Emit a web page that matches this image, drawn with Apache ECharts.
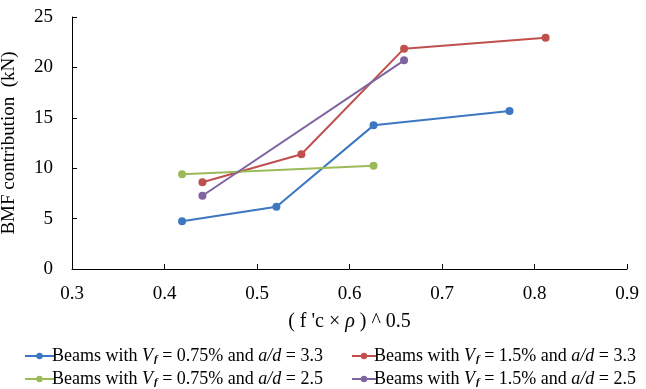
<!DOCTYPE html>
<html>
<head>
<meta charset="utf-8">
<script src="https://cdn.jsdelivr.net/npm/echarts@6/dist/echarts.min.js"></script>
<style>
html,body{margin:0;padding:0;background:#fff;}
#chart{width:646px;height:389px;}
</style>
</head>
<body>
<div id="chart"></div>
<script>
// 读图估计的数据点 [x, y]
const blueData = [[0.419, 4.73], [0.521, 6.18], [0.626, 14.25], [0.773, 15.67]];
const redData = [[0.441, 8.6], [0.548, 11.38], [0.659, 21.86], [0.812, 22.95]];
const greenData = [[0.419, 9.39], [0.626, 10.25]];
const purpleData = [[0.441, 7.27], [0.659, 20.7]];

const seriesNames = [
  'Beams with {i|V}{s|f} = 0.75% and {i|a/d} = 3.3',
  'Beams with {i|V}{s|f} = 1.5% and {i|a/d} = 3.3',
  'Beams with {i|V}{s|f} = 0.75% and {i|a/d} = 2.5',
  'Beams with {i|V}{s|f} = 1.5% and {i|a/d} = 2.5'
];
const colors = ['#3D77C2', '#C0504D', '#9BBB59', '#8064A2'];
const xTicks = [0.3, 0.9, 0.1];
const yTicks = [0, 25, 5];

const font = 'Liberation Serif';

function makeSeries(name, data, color) {
  return {
    name: name,
    type: 'line',
    data: data,
    symbol: 'circle',
    symbolSize: 8,
    color: color,
    lineStyle: {width: 2},
    itemStyle: {color: color},
    emphasis: {disabled: true}
  };
}

// 图例分四个放，位置固定 [left, top, 线长]
const legendPos = [[19, 342, 29], [346, 342, 24], [19, 365, 29], [346, 365, 24]];
function makeLegend(i) {
  return {
    left: legendPos[i][0],
    top: legendPos[i][1],
    itemWidth: legendPos[i][2],
    itemHeight: 8,
    itemGap: 0,
    textStyle: {
      fontFamily: font, fontSize: 18, color: '#000', padding: [0, 0, 0, -7],
      rich: {
        i: {fontFamily: font, fontSize: 18, fontStyle: 'italic', color: '#000'},
        s: {fontFamily: font, fontSize: 11, fontStyle: 'italic', fontWeight: 'bold', color: '#000', padding: [7, 0, 0, 1]}
      }
    },
    data: [seriesNames[i]]
  };
}

const option = {
  animation: false,
  backgroundColor: '#fff',
  grid: {left: 72, right: 19, top: 17, bottom: 120, outerBoundsMode: 'none'},
  xAxis: {
    type: 'value',
    min: xTicks[0], max: xTicks[1], interval: xTicks[2],
    name: "( f 'c × {i|ρ} ) ^ 0.5",
    nameLocation: 'middle',
    nameGap: 43,
    nameMoveOverlap: false,
    nameTextStyle: {
      fontFamily: font, fontSize: 20, color: '#000',
      rich: {i: {fontFamily: font, fontSize: 20, fontStyle: 'italic', color: '#000'}}
    },
    axisLine: {lineStyle: {color: '#000', width: 1}},
    axisTick: {show: true, inside: true, length: 5, lineStyle: {color: '#000'}},
    splitLine: {show: false},
    axisLabel: {fontFamily: font, fontSize: 19, color: '#000', margin: 16, formatter: v => v.toFixed(1)}
  },
  yAxis: {
    type: 'value',
    min: yTicks[0], max: yTicks[1], interval: yTicks[2],
    name: 'BMF contribution  (kN)',
    nameLocation: 'middle',
    nameGap: 53,
    nameMoveOverlap: false,
    nameTextStyle: {fontFamily: font, fontSize: 19, color: '#000'},
    axisLine: {show: true, lineStyle: {color: '#000', width: 1}},
    axisTick: {show: true, inside: true, length: 5, lineStyle: {color: '#000'}},
    splitLine: {show: false},
    axisLabel: {fontFamily: font, fontSize: 19, color: '#000', margin: 19}
  },
  legend: [makeLegend(0), makeLegend(1), makeLegend(2), makeLegend(3)],
  series: [
    makeSeries(seriesNames[0], blueData, colors[0]),
    makeSeries(seriesNames[1], redData, colors[1]),
    makeSeries(seriesNames[2], greenData, colors[2]),
    makeSeries(seriesNames[3], purpleData, colors[3])
  ]
};

const myChart = echarts.init(document.getElementById('chart'));
myChart.setOption(option);
</script>
</body>
</html>
